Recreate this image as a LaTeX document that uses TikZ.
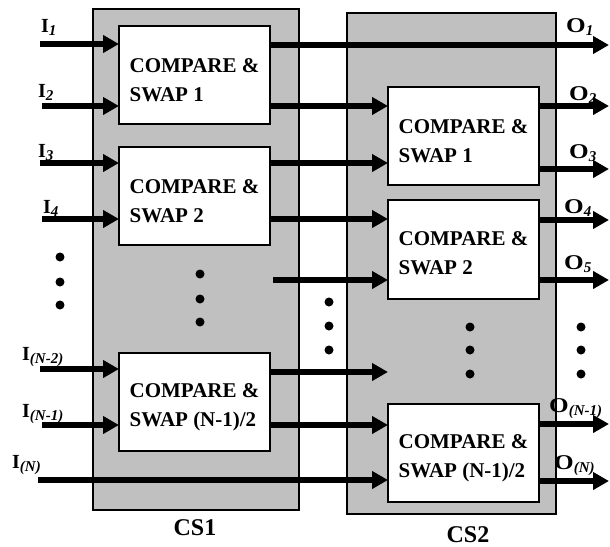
\documentclass[tikz,border=0pt]{standalone}
\usepackage{fontspec}
\setmainfont{Liberation Serif}
\usetikzlibrary{arrows.meta}
\definecolor{stagegray}{RGB}{192,192,192}
\newcommand{\inlab}[2]{{\fontsize{20}{20}\selectfont\bfseries #1}\raisebox{-3pt}{\fontsize{15}{15}\selectfont\bfseries\itshape #2}}
\newcommand{\outlab}[2]{\scalebox{1.2}[1]{\fontsize{21}{21}\selectfont\bfseries #1}\raisebox{-3pt}{\fontsize{15}{15}\selectfont\bfseries\itshape #2}}
\begin{document}
\begin{tikzpicture}[x=1pt,y=-1pt,
 stage/.style={draw=black,line width=1.2pt,fill=stagegray,inner sep=0pt,outer sep=0pt},
 csbox/.style={draw=black,line width=1.4pt,fill=white,inner sep=0pt,outer sep=0pt,minimum width=151pt,minimum height=98pt},
 arr/.style={line width=5.5pt,-{Triangle[length=16pt,width=17pt]}},
 dot/.style={circle,fill=black,inner sep=0pt,minimum size=9pt},
 btext/.style={font=\fontsize{21}{29}\selectfont\bfseries,align=left,inner sep=0pt},
 lab/.style={anchor=base west,inner sep=0pt},
 stlab/.style={anchor=base,inner sep=0pt,font=\fontsize{24}{24}\selectfont\bfseries}]
\useasboundingbox (0,0) rectangle (610,546);
% stages
\node[stage,minimum width=206pt,minimum height=501pt] (cs1) at (196,259.5) {};
\node[stage,minimum width=209pt,minimum height=501pt] (cs2) at (451.5,263.5) {};
% compare & swap boxes
\node[csbox] (a1) at (194.5,75) {};
\node[csbox] (a2) at (194.5,196) {};
\node[csbox] (a3) at (194.5,402) {};
\node[csbox] (b1) at (463.5,136) {};
\node[csbox,minimum height=99pt] (b2) at (463.5,249.5) {};
\node[csbox] (b3) at (463.5,453) {};
\node[btext] at ([yshift=-5pt]a1.center) {COMPARE \&\\SWAP 1};
\node[btext] at ([yshift=-5pt]a2.center) {COMPARE \&\\SWAP 2};
\node[btext] at ([yshift=-5pt]a3.center) {COMPARE \&\\SWAP (N-1)/2};
\node[btext] at ([yshift=-5pt]b1.center) {COMPARE \&\\SWAP 1};
\node[btext] at ([yshift=-4pt]b2.center) {COMPARE \&\\SWAP 2};
\node[btext] at ([yshift=-5pt]b3.center) {COMPARE \&\\SWAP (N-1)/2};
% free ends
\coordinate (i1) at (40,44);
\coordinate (i2) at (42,106);
\coordinate (i3) at (40,163);
\coordinate (i4) at (42,219);
\coordinate (i5) at (40,369);
\coordinate (i6) at (42,425);
\coordinate (i7) at (38,480);
\coordinate (m1) at (273,280);
\coordinate (m2) at (388,372);
\coordinate (o1) at (609,45);
\coordinate (o2) at (609,106);
\coordinate (o3) at (609,169);
\coordinate (o4) at (609,220);
\coordinate (o5) at (609,280);
\coordinate (o6) at (609,424);
\coordinate (o7) at (609,481);
% inputs
\draw[arr] (i1) -- (i1 -| a1.west);
\draw[arr] (i2) -- (i2 -| a1.west);
\draw[arr] (i3) -- (i3 -| a2.west);
\draw[arr] (i4) -- (i4 -| a2.west);
\draw[arr] (i5) -- (i5 -| a3.west);
\draw[arr] (i6) -- (i6 -| a3.west);
\draw[arr] (i7) -- (i7 -| b3.west);
% between stages
\draw[arr] (a1.east |- o1) -- (o1);
\draw[arr] (a1.east |- o2) -- (o2 -| b1.west);
\draw[arr] (a2.east |- i3) -- (i3 -| b1.west);
\draw[arr] (a2.east |- i4) -- (i4 -| b2.west);
\draw[arr] (m1) -- (m1 -| b2.west);
\draw[arr] (a3.east |- m2) -- (m2);
\draw[arr] (a3.east |- i6) -- (i6 -| b3.west);
% outputs
\draw[arr] (b1.east |- o2) -- (o2);
\draw[arr] (b1.east |- o3) -- (o3);
\draw[arr] (b2.east |- o4) -- (o4);
\draw[arr] (b2.east |- o5) -- (o5);
\draw[arr] (b3.east |- o6) -- (o6);
\draw[arr] (b3.east |- o7) -- (o7);
% dots
\foreach \x/\y [count=\k] in {60/257,60/282,60/305,200/274,200/299,200/322,329/302,329/326,329/350,470/327,470/350,470/374,581/327,581/350,581/374}
  \node[dot] (d\k) at (\x,\y) {};
% labels
\node[lab] (li1) at (41,32) {\inlab{I}{1}};
\node[lab] (li2) at (38,97) {\inlab{I}{2}};
\node[lab] (li3) at (38,157) {\inlab{I}{3}};
\node[lab] (li4) at (43,213) {\inlab{I}{4}};
\node[lab] (li5) at (22,360) {\inlab{I}{(N-2)}};
\node[lab] (li6) at (22,417) {\inlab{I}{(N-1)}};
\node[lab] (li7) at (12,468) {\inlab{I}{(N)}};
\node[lab] (lo1) at (566,32) {\outlab{O}{1}};
\node[lab] (lo2) at (569,100) {\outlab{O}{2}};
\node[lab] (lo3) at (569,158) {\outlab{O}{3}};
\node[lab] (lo4) at (564,213) {\outlab{O}{4}};
\node[lab] (lo5) at (564,269) {\outlab{O}{5}};
\node[lab] (lo6) at (549,412) {\outlab{O}{(N-1)}};
\node[lab] (lo7) at (554,469) {\outlab{O}{(N)}};
\node[stlab] (l1) at (195,535) {CS1};
\node[stlab] (l2) at (468,542) {CS2};
\end{tikzpicture}
\end{document}
